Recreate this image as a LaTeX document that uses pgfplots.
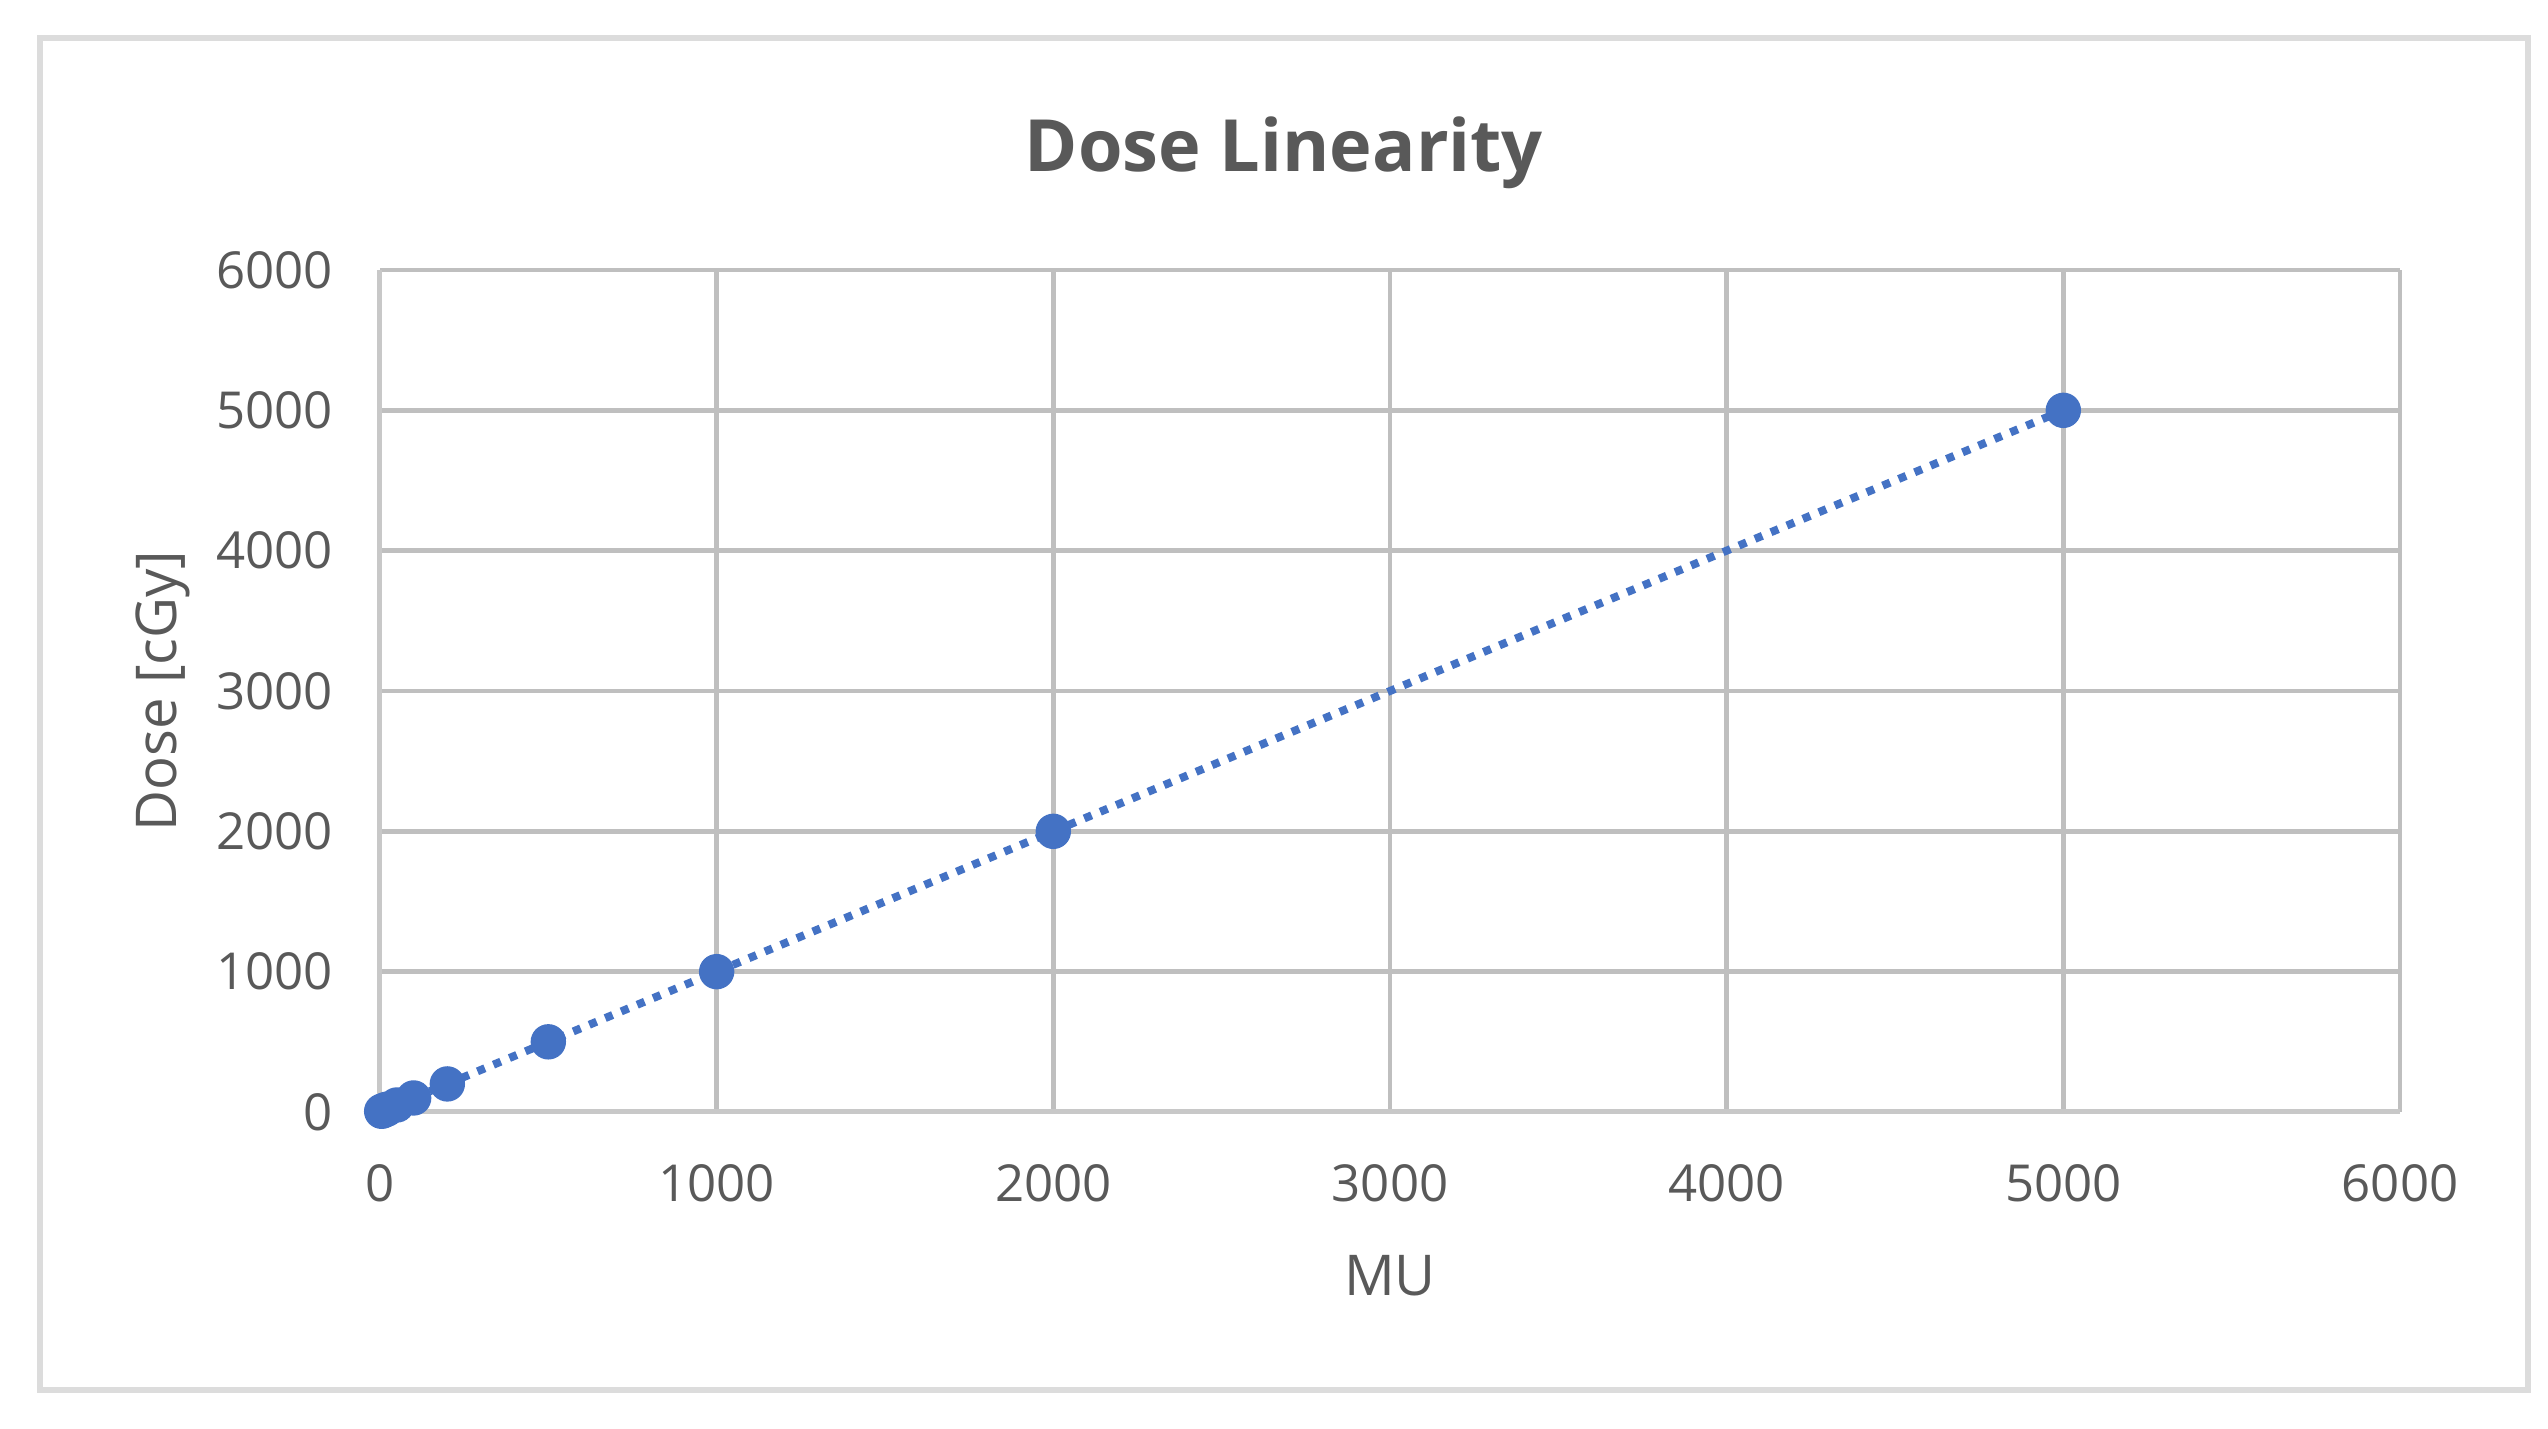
\documentclass[border=0pt]{standalone}
\usepackage{pgfplots}
\pgfplotsset{compat=1.18}
\usepackage{fontspec}
\setmainfont{Open Sans}
\definecolor{ser}{HTML}{4472C4}
\definecolor{grid}{HTML}{DCDCDC}
\definecolor{axl}{HTML}{C8C8C8}
\definecolor{txt}{HTML}{595959}
\begin{document}
\begin{tikzpicture}
\useasboundingbox (-38mm,-31.7mm) rectangle (216.8mm,111.2mm);
\draw[grid, line width=0.6mm] (-34mm,-27.8mm) rectangle (214.8mm,107.4mm);
\begin{axis}[
  at={(0,0)}, anchor=south west,
  scale only axis, width=202mm, height=84.2mm,
  xmin=0, xmax=6000, ymin=0, ymax=6000,
  xtick={0,1000,...,6000}, ytick={0,1000,...,6000},
  major tick length=0pt,
  /pgf/number format/assume math mode=true,
  /pgf/number format/1000 sep={},
  ticklabel style={font=\fontsize{14.5}{17}\selectfont, text=txt},
  yticklabel style={xshift=-3.5mm},
  xticklabel style={yshift=-4.0mm},
  grid=major,
  major grid style={grid, line width=0.45mm},
  axis line style={draw=none},
  xlabel={MU}, ylabel={Dose [cGy]},
  every axis x label/.style={at={(axis description cs:0.5,0)}, anchor=center, yshift=-16.4mm, font=\fontsize{16}{19}\selectfont, text=txt},
  every axis y label/.style={at={(axis description cs:0,0.5)}, anchor=center, rotate=90, yshift=21.7mm, font=\fontsize{16}{19}\selectfont, text=txt},
  clip=false,
]
\draw[axl, line width=0.5mm] (axis cs:0,0) -- (axis cs:0,6000);
\draw[axl, line width=0.5mm] (axis cs:0,0) -- (axis cs:6000,0);
\addplot[ser, line width=0.8mm, dash pattern=on 0.8mm off 0.93mm, forget plot] coordinates {(5,5) (5000,5000)};
\addplot[only marks, mark=*, mark size=1.7mm, color=ser, mark options={fill=ser, draw=ser}] coordinates {
(5,5) (10,10) (20,20) (50,50) (100,100) (200,200) (500,500) (1000,1000) (2000,2000) (5000,5000)};
\end{axis}
\node[anchor=base, font=\fontsize{20.5}{25}\selectfont\bfseries, text=txt] at (90.4mm,94mm) {Dose Linearity};
\end{tikzpicture}
\end{document}
